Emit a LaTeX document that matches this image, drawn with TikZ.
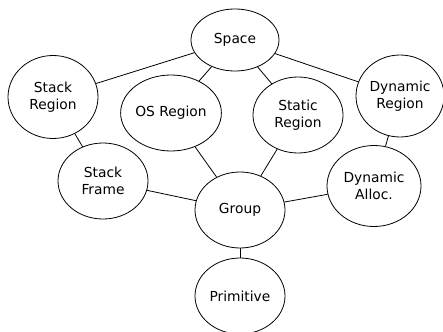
\documentclass[tikz,border=0pt]{standalone}
\usepackage{fontspec}
\setmainfont{DejaVu Sans}
\usetikzlibrary{shapes.geometric}
\begin{document}
\begin{tikzpicture}[x=1pt,y=-1pt,
  ell/.style={ellipse,draw,line width=0.8pt,inner sep=0pt,align=center,
    font=\fontsize{13.8}{17.5}\selectfont},
  edge/.style={line width=0.8pt}]
\useasboundingbox (0,0) rectangle (443,331);
\node[ell,minimum width=88pt,minimum height=62pt] (space) at (235,40) {Space};
\node[ell,minimum width=90pt,minimum height=83pt] (stackr) at (53,97) {Stack\\Region};
\node[ell,minimum width=93pt,minimum height=76pt] (osr) at (171,113) {OS Region};
\node[ell,minimum width=90pt,minimum height=76pt] (staticr) at (298,115) {Static\\Region};
\node[ell,minimum width=88pt,minimum height=82pt] (dynr) at (400,96) {Dynamic\\Region};
\node[ell,minimum width=90pt,minimum height=76pt] (stackf) at (103,181) {Stack\\Frame};
\node[ell,minimum width=90pt,minimum height=76pt] (group) at (240,210) {Group};
\node[ell,minimum width=94pt,minimum height=81pt] (dyna) at (374,186) {Dynamic\\Alloc.};
\node[ell,minimum width=90pt,minimum height=76pt] (prim) at (240,296) {Primitive};
\draw[edge] (space) -- (stackr);
\draw[edge] (space) -- (osr);
\draw[edge] (space) -- (staticr);
\draw[edge] (space) -- (dynr);
\draw[edge] (stackr) -- (stackf);
\draw[edge] (osr) -- (group);
\draw[edge] (staticr) -- (group);
\draw[edge] (dynr) -- (dyna);
\draw[edge] (stackf) -- (group);
\draw[edge] (dyna) -- (group);
\draw[edge] (group) -- (prim);
\end{tikzpicture}
\end{document}
